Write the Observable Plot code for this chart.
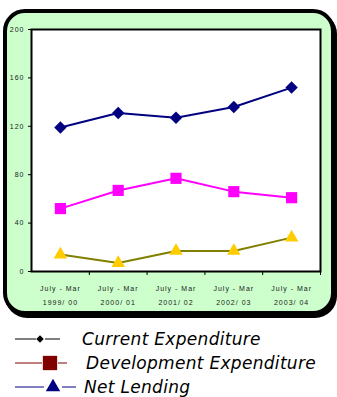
<!DOCTYPE html>
<html>
<head>
<meta charset="utf-8">
<script src="https://cdn.jsdelivr.net/npm/d3@7"></script>
<script src="https://cdn.jsdelivr.net/npm/@observablehq/plot@0.6"></script>
<style>
  html, body { margin: 0; padding: 0; background: #ffffff; }
  #wrap { position: relative; width: 337px; height: 397px; overflow: hidden; }
  #panel {
    position: absolute; left: 3px; top: 9px; width: 332px; height: 306px;
    box-sizing: border-box; background: #ccffcc; border: 4px solid #000;
    border-radius: 22px; box-shadow: 2px 3px 0 #000;
  }
  #chart { position: absolute; left: 0; top: 0; }
  #legend { position: absolute; left: 0; top: 320px; }
</style>
</head>
<body>
<div id="wrap">
  <div id="panel"></div>
  <div id="chart"></div>
  <div id="legend"></div>
</div>
<script>
// Expenditure by fiscal period (July - March), Rs billion
const periods = ["July - Mar", "July - Mar", "July - Mar", "July - Mar", "July - Mar"];
const years = ["1999/ 00", "2000/ 01", "2001/ 02", "2002/ 03", "2003/ 04"];
const currentExpenditure = [119, 131, 127, 136, 152];
const developmentExpenditure = [52, 67, 77, 66, 61];
const netLending = [14, 7, 17, 17, 28];
const yTicks = [0, 40, 80, 120, 160, 200];

const seriesNames = ["Current Expenditure", "Development Expenditure", "Net Lending"];
const seriesValues = [currentExpenditure, developmentExpenditure, netLending];

const rows = seriesNames.flatMap((name, s) =>
  seriesValues[s].map((v, i) => ({series: name, i, value: v}))
);
const of = name => rows.filter(d => d.series === name);

// category index positions; boundaries between periods sit at i + 0.5
const idx = years.map((_, i) => i);
const bounds = idx.map(i => i + 0.5);

const chart = Plot.plot({
  width: 337,
  height: 320,
  marginLeft: 31,
  marginRight: 17,
  marginTop: 29,
  marginBottom: 49,
  style: {background: "transparent", fontFamily: "'Liberation Sans', Arial, sans-serif", letterSpacing: "1px", color: "#1a1a1a"},
  x: {type: "linear", domain: [-0.5, years.length - 0.5]},
  y: {domain: [0, 200]},
  marks: [
    Plot.frame({fill: "white", stroke: "black", strokeWidth: 2}),
    Plot.axisY({ticks: yTicks, tickSize: 3, tickPadding: 4, fontSize: 7, label: null, stroke: "black"}),
    Plot.axisX({ticks: bounds, tickSize: 4, tickFormat: () => "", label: null, stroke: "black"}),
    Plot.axisX({ticks: idx, tickSize: 0, tickPadding: 10, fontSize: 7, lineHeight: 2, label: null,
      tickFormat: i => periods[i] + "\n" + years[i]}),
    Plot.line(of(seriesNames[0]), {x: "i", y: "value", stroke: "#000080", strokeWidth: 2}),
    Plot.dot(of(seriesNames[0]), {x: "i", y: "value", symbol: "diamond2", r: 5.6, fill: "#000080"}),
    Plot.line(of(seriesNames[1]), {x: "i", y: "value", stroke: "#ff00ff", strokeWidth: 2}),
    Plot.dot(of(seriesNames[1]), {x: "i", y: "value", symbol: "square", r: 6.3, fill: "#ff00ff"}),
    Plot.line(of(seriesNames[2]), {x: "i", y: "value", stroke: "#808000", strokeWidth: 2}),
    Plot.dot(of(seriesNames[2]), {x: "i", y: "value", symbol: "triangle", r: 5, fill: "#ffcc00"})
  ]
});
document.getElementById("chart").appendChild(chart);

// Legend below the panel
const legendColors = ["#000000", "#800000", "#000080"];
const legendSymbols = [d3.symbolDiamond2, d3.symbolSquare, d3.symbolTriangle];
const legendSizes = [36, 205, 90];
const symX = [40, 50, 53];
const textX = [82, 86, 84];
const lineEnd = [[36, 45, 60], [42, 58, 67], [44, 62, 76]];

const svg = d3.select("#legend").append("svg").attr("width", 337).attr("height", 77);
seriesNames.forEach((name, k) => {
  const cy = 19 + k * 24;
  const g = svg.append("g").attr("transform", `translate(0,${cy})`);
  g.append("line").attr("x1", 15).attr("x2", lineEnd[k][0]).attr("y1", 0).attr("y2", 0)
    .attr("stroke", legendColors[k]).attr("stroke-width", 1);
  g.append("line").attr("x1", lineEnd[k][1]).attr("x2", lineEnd[k][2]).attr("y1", 0).attr("y2", 0)
    .attr("stroke", legendColors[k]).attr("stroke-width", 1);
  g.append("path").attr("transform", `translate(${symX[k]},0)`)
    .attr("d", d3.symbol(legendSymbols[k], legendSizes[k])()).attr("fill", legendColors[k]);
  g.append("text").attr("x", textX[k]).attr("y", 6)
    .attr("font-family", "'DejaVu Sans', Verdana, sans-serif").attr("font-style", "italic")
    .attr("font-size", 17).attr("letter-spacing", "0.3px").attr("fill", "#000").text(name);
});
</script>
</body>
</html>
